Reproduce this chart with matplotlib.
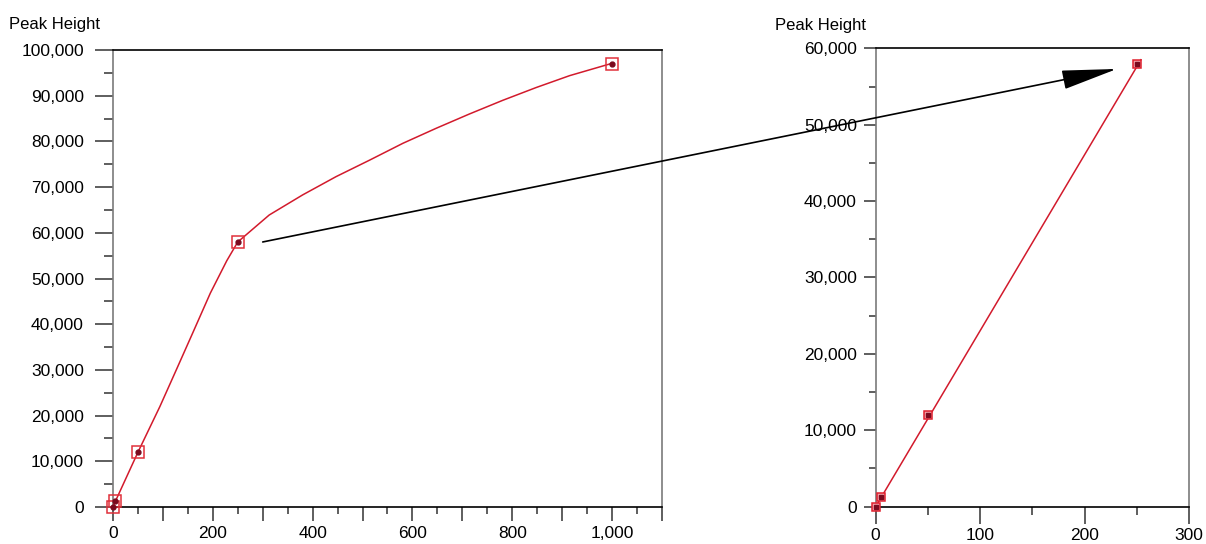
import matplotlib.pyplot as plt
from matplotlib.ticker import MultipleLocator, FuncFormatter
from matplotlib.patches import ConnectionPatch

plt.rcParams['font.family'] = ['Liberation Sans', 'DejaVu Sans']

# calibration points
conc = [0, 5, 50, 250, 1000]
peak = [0, 1300, 12000, 58000, 97000]

# fitted curve on the full range
curve_x = [0, 5, 50, 94, 128, 161, 195, 228, 250, 313, 380, 447, 514, 581,
           648, 714, 781, 848, 915, 1000]
curve_y = [0, 1300, 12000, 22000, 30300, 38400, 46800, 53900, 58000, 63900, 68300,
           72300, 75900, 79600, 82900, 86000, 89000, 91800, 94400, 97100]

# low range: first four points with a straight fit
low_conc = conc[:4]
low_peak = peak[:4]
fit_x = [0, 254]
fit_y = [0, 58500]

red = '#d21a2c'
dark = '#7a0a1e'
grey = '#7a7a7a'

fig = plt.figure(figsize=(12.06, 5.44), dpi=100)
ax1 = fig.add_axes([0.0937, 0.068, 0.4552, 0.840])
ax2 = fig.add_axes([0.7261, 0.0686, 0.2598, 0.8426])


def fmt_thousands(v, pos):
    return f'{int(round(v)):,}'


def style_axes(ax, xmax, ymax, xlabel_every):
    ax.set_xlim(0, xmax)
    ax.set_ylim(0, ymax)
    ax.spines['left'].set_color(grey)
    ax.spines['right'].set_color(grey)
    ax.spines['top'].set_color('black')
    ax.spines['bottom'].set_color('black')
    for s in ax.spines.values():
        s.set_linewidth(1.2)
    ax.xaxis.set_major_locator(MultipleLocator(100))
    ax.xaxis.set_minor_locator(MultipleLocator(50))
    ax.yaxis.set_major_locator(MultipleLocator(10000))
    ax.yaxis.set_minor_locator(MultipleLocator(5000))
    ax.xaxis.set_major_formatter(FuncFormatter(
        lambda v, p: f'{int(round(v)):,}' if round(v) % xlabel_every == 0 else ''))
    ax.yaxis.set_major_formatter(FuncFormatter(fmt_thousands))
    ax.tick_params(axis='both', which='both', direction='out', colors='#333333',
                   labelcolor='black', labelsize=12.5, width=1.1)


style_axes(ax1, 1100, 100000, 200)
ax1.tick_params(axis='y', which='major', length=13, pad=8)
ax1.tick_params(axis='y', which='minor', length=6.5)
ax1.tick_params(axis='x', which='major', length=10, pad=4)
ax1.tick_params(axis='x', which='minor', length=5)

style_axes(ax2, 300, 60000, 100)
ax2.tick_params(axis='y', which='major', length=8.5, pad=5)
ax2.tick_params(axis='y', which='minor', length=5)
ax2.tick_params(axis='x', which='major', length=12, pad=3)
ax2.tick_params(axis='x', which='minor', length=6)

# left: full range curve
ax1.plot(curve_x, curve_y, color=red, lw=1.1, zorder=3)
ax1.plot(conc, peak, linestyle='none', marker='s', markersize=8.5, markerfacecolor='none',
         markeredgecolor='#e0303a', markeredgewidth=1.1, zorder=4, clip_on=False)
ax1.plot(conc, peak, linestyle='none', marker='o', markersize=3.5, color=dark, zorder=5,
         clip_on=False)

# right: low range
ax2.plot(fit_x, fit_y, color=red, lw=1.1, zorder=3)
ax2.plot(low_conc, low_peak, linestyle='none', marker='s', markersize=6, markerfacecolor='#f2a0a8',
         markeredgecolor='#e0202e', markeredgewidth=1.1, zorder=4, clip_on=False)
ax2.plot(low_conc, low_peak, linestyle='none', marker='s', markersize=2.5, color=dark, zorder=5,
         clip_on=False)

fig.text(0.0075, 0.955, 'Peak Height', fontsize=12, ha='left', va='center')
fig.text(0.643, 0.953, 'Peak Height', fontsize=12, ha='left', va='center')

# zoom arrow from the left curve to the right panel
arrow = ConnectionPatch(xyA=(300, 58000), coordsA=ax1.transData,
                        xyB=(231, 57300), coordsB=ax2.transData,
                        arrowstyle='-|>,head_length=1.75,head_width=0.3',
                        mutation_scale=20, color='black', lw=1.2, zorder=10)
fig.add_artist(arrow)

fig.savefig('out.png', dpi=100, facecolor='white')
